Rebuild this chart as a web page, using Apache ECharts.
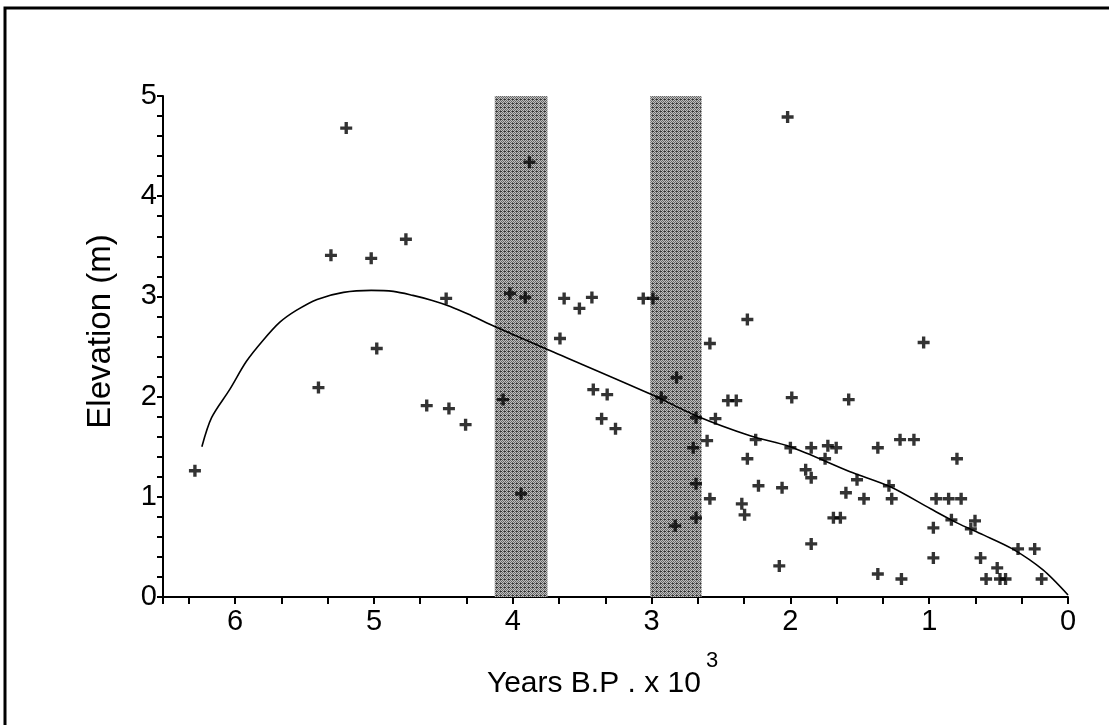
<!DOCTYPE html>
<html>
<head>
<meta charset="utf-8">
<script src="https://cdn.jsdelivr.net/npm/echarts@6/dist/echarts.min.js"></script>
<style>
html,body{margin:0;padding:0;background:#fff;}
#chart{width:1109px;height:725px;}
</style>
</head>
<body>
<div id="chart"></div>
<script>
// ---- data (years B.P. x 10^3, elevation m) ----
var pointYears = [6.29,5.40,5.31,5.20,5.02,4.98,4.77,4.62,4.48,4.46,4.34,4.07,4.02,3.91,3.88,3.94,3.66,3.63,3.52,3.43,3.42,3.36,3.32,3.26,3.06,2.99,2.93,2.82,2.83,2.68,2.70,2.68,2.68,2.60,2.58,2.58,2.54,2.45,2.39,2.35,2.33,2.31,2.31,2.25,2.23,2.08,2.06,2.02,2.00,1.99,1.89,1.85,1.85,1.85,1.75,1.73,1.69,1.67,1.64,1.60,1.58,1.52,1.47,1.37,1.37,1.29,1.27,1.21,1.20,1.11,1.04,0.97,0.97,0.95,0.86,0.84,0.80,0.77,0.70,0.67,0.63,0.59,0.51,0.49,0.45,0.36,0.24,0.19];
var pointElev  = [1.26,2.09,3.41,4.68,3.38,2.48,3.57,1.91,2.98,1.88,1.72,1.97,3.03,2.99,4.34,1.03,2.58,2.98,2.88,2.99,2.07,1.78,2.02,1.68,2.98,2.98,1.99,2.19,0.71,1.79,1.49,1.13,0.79,1.56,2.53,0.98,1.78,1.96,1.96,0.93,0.82,2.77,1.38,1.57,1.11,0.31,1.09,4.79,1.49,1.99,1.27,1.49,1.19,0.53,1.38,1.51,0.79,1.49,0.79,1.04,1.97,1.17,0.98,1.49,0.23,1.11,0.98,1.57,0.18,1.57,2.54,0.69,0.39,0.98,0.98,0.77,1.38,0.98,0.68,0.76,0.39,0.18,0.29,0.18,0.18,0.48,0.48,0.18];
var curveYears = [6.24,6.17,6.04,5.92,5.80,5.68,5.56,5.41,5.22,5.02,4.86,4.72,4.58,4.45,4.30,4.13,3.75,3.00,2.68,2.29,2.00,1.57,1.28,0.99,0.80,0.61,0.40,0.18,0.00];
var curveElev  = [1.50,1.79,2.07,2.35,2.56,2.74,2.86,2.97,3.04,3.06,3.05,3.01,2.96,2.90,2.81,2.70,2.47,2.02,1.81,1.61,1.50,1.25,1.10,0.88,0.74,0.62,0.48,0.27,0.02];
var bandStart = [4.13, 3.01];
var bandEnd   = [3.75, 2.64];
var xTickValues = [0,1,2,3,4,5,6];
var yTickValues = [0,1,2,3,4,5];

var FONT = "'Liberation Sans', Arial, sans-serif";

// texture for shaded bands
var pc = document.createElement('canvas');
pc.width = 4; pc.height = 4;
var g = pc.getContext('2d');
g.fillStyle = '#c0c0c0'; g.fillRect(0,0,4,4);
g.fillStyle = '#666';
g.fillRect(0,0,1,1); g.fillRect(2,0,1,1); g.fillRect(1,1,1,1); g.fillRect(3,1,1,1);
g.fillRect(0,2,1,1); g.fillRect(2,2,1,1); g.fillRect(1,3,1,1); g.fillRect(3,3,1,1);
g.fillStyle = '#333'; g.fillRect(0,3,2,1);

var scatterData = pointYears.map(function(x,i){return [x, pointElev[i]];});
var curveData = curveYears.map(function(x,i){return [x, curveElev[i]];});
var bands = bandStart.map(function(s,i){return [{xAxis:s, yAxis:0},{xAxis:bandEnd[i], yAxis:5}];});

function isInt(v){return Math.abs(v-Math.round(v))<1e-4;}

var chart = echarts.init(document.getElementById('chart'));
chart.setOption({
  animation:false,
  backgroundColor:'#fff',
  grid:{left:163, right:41, top:96, bottom:128},
  xAxis:{
    type:'value', inverse:true, min:0, max:6.52, interval:1/3,
    axisLine:{onZero:false, lineStyle:{color:'#000', width:2}},
    axisTick:{show:true, length:7, lineStyle:{color:'#000', width:2}},
    splitLine:{show:false},
    axisLabel:{color:'#000', fontSize:29, fontFamily:FONT, margin:10,
      formatter:function(v){ if(!isInt(v)) return ''; var r=Math.round(v); return xTickValues.indexOf(r)>=0 ? String(r) : ''; }},
    name:'{a|Years B.P . x 10}{s|3}',
    nameLocation:'middle', nameGap:53,
    nameTextStyle:{padding:[0,26,0,0], rich:{
      a:{fontSize:30, fontFamily:FONT, color:'#000', lineHeight:68},
      s:{fontSize:22, fontFamily:FONT, color:'#000', lineHeight:22, verticalAlign:'top', padding:[0,0,0,5]}
    }}
  },
  yAxis:{
    type:'value', min:0, max:5, interval:0.2,
    axisLine:{show:true, onZero:false, lineStyle:{color:'#000', width:2}},
    axisTick:{show:true, length:6, lineStyle:{color:'#000', width:2}},
    splitLine:{show:false},
    axisLabel:{color:'#000', fontSize:29, fontFamily:FONT, margin:6,
      formatter:function(v){ if(!isInt(v)) return ''; var r=Math.round(v); return yTickValues.indexOf(r)>=0 ? String(r) : ''; }},
    name:'Elevation (m)', nameLocation:'middle', nameGap:46,
    nameTextStyle:{fontSize:33, fontFamily:FONT, color:'#000', padding:[0,0,0,30]}
  },
  graphic:[
    {type:'rect', shape:{x:5, y:8, width:1300, height:900}, style:{fill:null, stroke:'#000', lineWidth:3}, silent:true}
  ],
  series:[
    {type:'scatter', data:[], z:1, silent:true,
     markArea:{silent:true, itemStyle:{color:{image:pc, repeat:'repeat'}, borderWidth:0}, data:bands}},
    {type:'line', data:curveData, smooth:0.3, symbol:'none', z:3,
     lineStyle:{color:'#000', width:1.6}},
    {type:'scatter', data:scatterData, z:4,
     symbol:'path://M3.6,0H6.4V3.6H10V6.4H6.4V10H3.6V6.4H0V3.6H3.6Z', symbolSize:12,
     itemStyle:{color:'#000'}}
  ]
});
</script>
</body>
</html>
